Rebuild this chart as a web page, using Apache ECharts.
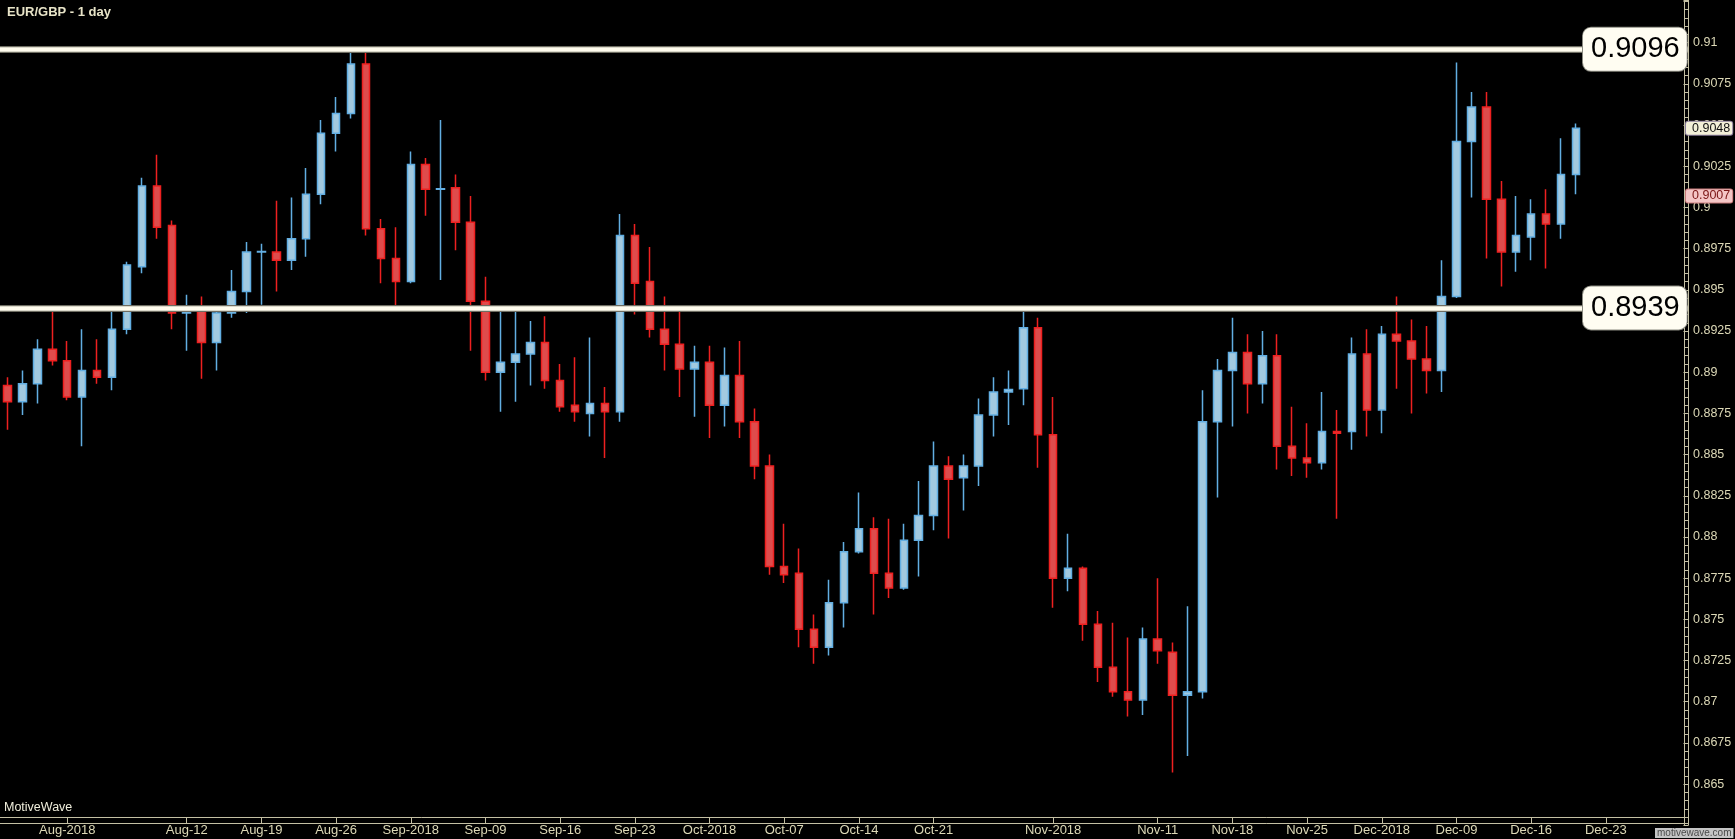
<!DOCTYPE html>
<html>
<head>
<meta charset="utf-8">
<script src="https://cdn.jsdelivr.net/npm/echarts@6/dist/echarts.min.js"></script>
<style>
html,body{margin:0;padding:0;background:#000;}
#main{width:1735px;height:839px;}
</style>
</head>
<body>
<div id="main"></div>
<script>
// ---- categories (trading days) ----
const dates = [
'2018-07-26','2018-07-27','2018-07-30','2018-07-31','2018-08-01','2018-08-02','2018-08-03',
'2018-08-06','2018-08-07','2018-08-08','2018-08-09','2018-08-10',
'2018-08-13','2018-08-14','2018-08-15','2018-08-16','2018-08-17',
'2018-08-20','2018-08-21','2018-08-22','2018-08-23','2018-08-24',
'2018-08-27','2018-08-28','2018-08-29','2018-08-30','2018-08-31',
'2018-09-03','2018-09-04','2018-09-05','2018-09-06','2018-09-07',
'2018-09-10','2018-09-11','2018-09-12','2018-09-13','2018-09-14',
'2018-09-17','2018-09-18','2018-09-19','2018-09-20','2018-09-21',
'2018-09-24','2018-09-25','2018-09-26','2018-09-27','2018-09-28',
'2018-10-01','2018-10-02','2018-10-03','2018-10-04','2018-10-05',
'2018-10-08','2018-10-09','2018-10-10','2018-10-11','2018-10-12',
'2018-10-15','2018-10-16','2018-10-17','2018-10-18','2018-10-19',
'2018-10-22','2018-10-23','2018-10-24','2018-10-25','2018-10-26',
'2018-10-29','2018-10-30','2018-10-31','2018-11-01','2018-11-02',
'2018-11-05','2018-11-06','2018-11-07','2018-11-08','2018-11-09',
'2018-11-12','2018-11-13','2018-11-14','2018-11-15','2018-11-16',
'2018-11-19','2018-11-20','2018-11-21','2018-11-22','2018-11-23',
'2018-11-26','2018-11-27','2018-11-28','2018-11-29','2018-11-30',
'2018-12-03','2018-12-04','2018-12-05','2018-12-06','2018-12-07',
'2018-12-10','2018-12-11','2018-12-12','2018-12-13','2018-12-14',
'2018-12-17','2018-12-18','2018-12-19','2018-12-20',
'2018-12-21','2018-12-24','2018-12-25','2018-12-26','2018-12-27','2018-12-28','2018-12-31'
];

// ---- OHLC values ----
const opens = [
0.8892,0.8882,0.8893,0.8914,0.8907,0.8885,0.8901,
0.8897,0.8926,0.8964,0.9013,0.8989,
0.8936,0.8938,0.8918,0.8936,0.8949,
0.8973,0.8973,0.8968,0.8981,0.9008,
0.9045,0.9057,0.9087,0.8987,0.8969,
0.8955,0.9026,0.9011,0.9012,0.8991,
0.8943,0.8900,0.8906,0.8911,0.8918,
0.8895,0.8880,0.8875,0.8881,0.8876,
0.8983,0.8955,0.8926,0.8917,0.8902,
0.8906,0.8880,0.8898,0.8870,0.8843,
0.8782,0.8778,0.8744,0.8733,0.8760,
0.8791,0.8805,0.8778,0.8769,0.8798,
0.8813,0.8843,0.8836,0.8843,0.8874,
0.8888,0.8890,0.8927,0.8862,0.8775,
0.8781,0.8747,0.8721,0.8706,0.8701,
0.8738,0.8730,0.8704,0.8706,0.8870,
0.8901,0.8912,0.8893,0.8910,0.8855,
0.8848,0.8845,0.8864,0.8864,0.8911,
0.8877,0.8923,0.8919,0.8908,0.8901,
0.8946,0.9040,0.9061,0.9005,0.8973,
0.8982,0.8996,0.8990,0.9020
];
const closes = [
0.8882,0.8893,0.8914,0.8907,0.8885,0.8901,0.8897,
0.8926,0.8965,0.9013,0.8988,0.8936,
0.8939,0.8918,0.8936,0.8949,0.8973,
0.89733,0.8968,0.8981,0.9008,0.9045,
0.9057,0.9087,0.8987,0.8969,0.8955,
0.9026,0.9011,0.90113,0.8991,0.8943,
0.8900,0.8906,0.8911,0.8918,0.8895,
0.8879,0.8876,0.8881,0.8876,0.8983,
0.8954,0.8926,0.8917,0.8902,0.8906,
0.8880,0.8898,0.8870,0.8843,0.8782,
0.8777,0.8744,0.8733,0.8760,0.8791,
0.8805,0.8778,0.8769,0.8798,0.8813,
0.8843,0.8835,0.8843,0.8874,0.8888,
0.88895,0.8927,0.8862,0.8775,0.8781,
0.8747,0.8721,0.8706,0.8701,0.8738,
0.8731,0.8704,0.8706,0.8870,0.8901,
0.8912,0.8893,0.8910,0.8855,0.8848,
0.8845,0.8864,0.8863,0.8911,0.8877,
0.8923,0.8919,0.8908,0.8901,0.8946,
0.9040,0.9061,0.9005,0.8973,0.8983,
0.8996,0.8990,0.9020,0.9048
];
const lows = [
0.8865,0.8874,0.8881,0.8904,0.8883,0.8855,0.8893,
0.8889,0.8923,0.8960,0.8981,0.8926,
0.8913,0.8896,0.8901,0.8933,0.8936,
0.8941,0.8949,0.8962,0.8970,0.9002,
0.9034,0.9054,0.8983,0.8954,0.8938,
0.8954,0.8995,0.8956,0.8974,0.8913,
0.8895,0.8876,0.8882,0.8892,0.8890,
0.8876,0.8870,0.8861,0.8848,0.8870,
0.8935,0.8921,0.8901,0.8885,0.8873,
0.8860,0.8867,0.8860,0.8835,0.8777,
0.8772,0.8733,0.8723,0.8728,0.8745,
0.8790,0.8753,0.8763,0.8768,0.8776,
0.8804,0.8799,0.8816,0.8831,0.8861,
0.8868,0.8880,0.8842,0.8757,0.8767,
0.8737,0.8712,0.8703,0.8691,0.8692,
0.8723,0.8657,0.8667,0.8702,0.8824,
0.8867,0.8875,0.8881,0.8841,0.8837,
0.8836,0.8841,0.8811,0.8853,0.8861,
0.8863,0.8890,0.8875,0.8887,0.8888,
0.8945,0.9006,0.8969,0.8952,0.8961,
0.8968,0.8963,0.8981,0.9008
];
const highs = [
0.8897,0.8901,0.8920,0.8937,0.8919,0.8926,0.8920,
0.8938,0.8967,0.9018,0.9032,0.8992,
0.8947,0.8946,0.8938,0.8962,0.8979,
0.8978,0.9004,0.9006,0.9024,0.9053,
0.9067,0.9097,0.9094,0.8993,0.8988,
0.9034,0.9030,0.9053,0.9020,0.9007,
0.8958,0.8940,0.8938,0.8931,0.8934,
0.8905,0.8909,0.8921,0.8891,0.8996,
0.8990,0.8976,0.8946,0.8938,0.8916,
0.8916,0.8915,0.8919,0.8878,0.8850,
0.8808,0.8793,0.8753,0.8774,0.8797,
0.8827,0.8812,0.8811,0.8808,0.8834,
0.8858,0.8849,0.8850,0.8884,0.8897,
0.8901,0.8939,0.8933,0.8885,0.8802,
0.8782,0.8755,0.8748,0.8739,0.8745,
0.8775,0.8736,0.8758,0.8889,0.8908,
0.8933,0.8923,0.8925,0.8923,0.8879,
0.8869,0.8888,0.8877,0.8921,0.8926,
0.8928,0.8946,0.8932,0.8928,0.8968,
0.9088,0.9070,0.9070,0.9016,0.9007,
0.9005,0.9011,0.9042,0.9051
];

// ---- x tick labels ----
const tickDates = ['2018-08-01','2018-08-13','2018-08-20','2018-08-27','2018-09-03','2018-09-10','2018-09-17','2018-09-24',
  '2018-10-01','2018-10-08','2018-10-15','2018-10-22','2018-11-01','2018-11-12','2018-11-19','2018-11-26',
  '2018-12-03','2018-12-10','2018-12-17','2018-12-24'];
const tickTexts = ['Aug-2018','Aug-12','Aug-19','Aug-26','Sep-2018','Sep-09','Sep-16','Sep-23',
  'Oct-2018','Oct-07','Oct-14','Oct-21','Nov-2018','Nov-11','Nov-18','Nov-25',
  'Dec-2018','Dec-09','Dec-16','Dec-23'];

// ---- horizontal levels and price tags ----
const levelLines = [0.9096, 0.8939];
const priceTags = [0.9048, 0.9007];

const FONT = '"Liberation Sans", Arial, sans-serif';
const AXIS = '#c4c0a4';
const LBL = '#dcd8b6';

const labelMap = {};
tickDates.forEach((d, i) => { labelMap[d] = tickTexts[i]; });
const isTick = (idx, val) => Object.prototype.hasOwnProperty.call(labelMap, val);

const ohlc = opens.map((o, i) => [o, closes[i], lows[i], highs[i]]);

const levelBox = {
  show: true, position: 'insideEnd', distance: [1.3, 0],
  formatter: p => Number(p.value).toFixed(4),
  color: '#000', fontFamily: FONT, fontSize: 29, lineHeight: 34,
  backgroundColor: '#fffdf2', borderColor: '#8a8a80', borderWidth: 1, borderRadius: 8,
  padding: [5, 7, 4, 8]
};

const markData = [];
levelLines.forEach(v => {
  markData.push({ yAxis: v, lineStyle: { color: '#6e6d62', width: 7, type: 'solid' }, label: { show: false } });
});
levelLines.forEach(v => {
  markData.push({ yAxis: v, lineStyle: { color: '#fffcee', width: 4.5, type: 'solid' }, label: levelBox });
});
const tagStyles = [
  { color: '#111', backgroundColor: '#f3f0d8', borderColor: '#8a7d9a' },
  { color: '#7a1515', backgroundColor: '#f4c6c6', borderColor: '#c87a7a' }
];
priceTags.forEach((v, i) => {
  markData.push({
    yAxis: v, lineStyle: { color: 'rgba(0,0,0,0)', width: 1, type: 'solid' },
    label: Object.assign({ show: true, position: 'end', distance: -2,
      formatter: p => Number(p.value).toFixed(4),
      fontFamily: FONT, fontSize: 12.5, lineHeight: 13, borderWidth: 1, borderRadius: 2,
      padding: [0, 2, 0, 6] }, tagStyles[i])
  });
});

const chart = echarts.init(document.getElementById('main'), null, { renderer: 'canvas' });
chart.setOption({
  backgroundColor: '#000',
  animation: false,
  textStyle: { fontFamily: FONT },
  title: [
    { text: 'EUR/GBP - 1 day', left: 7, top: 6, padding: 0,
      textStyle: { color: '#e8e4c8', fontSize: 13, fontWeight: 'bold', fontFamily: FONT } },
    { text: 'MotiveWave', left: 4, top: 801, padding: 0,
      textStyle: { color: '#f0eedc', fontSize: 12.5, fontWeight: 'normal', fontFamily: FONT } },
    { text: 'motivewave.com', left: 1655, top: 828, padding: [0, 2], backgroundColor: '#c4c4c4',
      textStyle: { color: '#4a4a4a', fontSize: 10, fontWeight: 'normal', fontFamily: FONT, lineHeight: 10 } }
  ],
  grid: { left: -4.8, right: 47, top: 0, bottom: 13.7, containLabel: false },
  xAxis: [
    {
      type: 'category', position: 'bottom', data: dates, boundaryGap: true, offset: -7.8,
      axisLine: { show: true, lineStyle: { color: AXIS, width: 1 } },
      axisTick: { show: true, interval: isTick, alignWithLabel: true, length: 5.5, lineStyle: { color: AXIS } },
      axisLabel: { show: true, interval: isTick, formatter: v => labelMap[v] || '', color: LBL,
        fontSize: 13, margin: 6, fontFamily: FONT },
      splitLine: { show: false }
    },
    {
      type: 'category', position: 'bottom', data: dates, boundaryGap: true, offset: -2.3,
      axisLine: { show: true, lineStyle: { color: AXIS, width: 1 } },
      axisTick: { show: false }, axisLabel: { show: false }, splitLine: { show: false }
    }
  ],
  yAxis: [
    {
      type: 'value', position: 'right', min: 0.8625, max: 0.91259, interval: 0.0025,
      axisLine: { show: true, lineStyle: { color: AXIS, width: 1 } },
      axisTick: { show: true, inside: true, length: 4.5, lineStyle: { color: AXIS } },
      minorTick: { show: true, splitNumber: 5, length: 3, lineStyle: { color: AXIS } },
      axisLabel: { show: true, color: LBL, fontSize: 12.5, margin: 5, fontFamily: FONT,
        formatter: v => (v < 0.864 || v > 0.911) ? '' : String(+v.toFixed(4)) },
      splitLine: { show: false }
    },
    {
      type: 'value', position: 'right', offset: -4, min: 0.8625, max: 0.91259,
      axisLine: { show: true, lineStyle: { color: AXIS, width: 1 } },
      axisTick: { show: false }, axisLabel: { show: false }, splitLine: { show: false }
    }
  ],
  series: [{
    type: 'candlestick', xAxisIndex: 0, yAxisIndex: 0,
    data: ohlc, barWidth: 8,
    itemStyle: {
      color: '#a2c9df', color0: '#de4c4c',
      borderColor: '#62aee2', borderColor0: '#ee2020', borderWidth: 1.5
    },
    markLine: { silent: true, symbol: 'none', animation: false, precision: 4, data: markData }
  }]
});
</script>
</body>
</html>
